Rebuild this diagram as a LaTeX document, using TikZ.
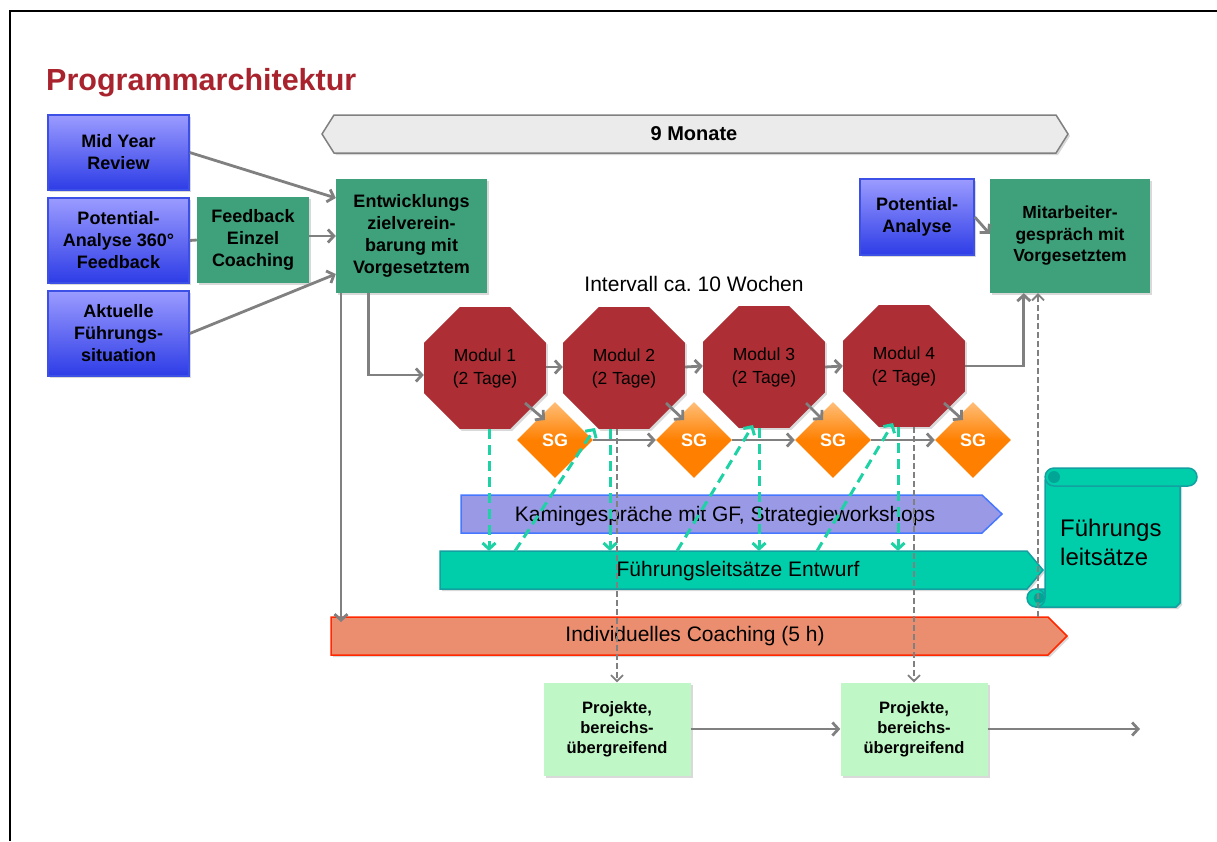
\documentclass[tikz,border=0pt]{standalone}
\usepackage{fontspec}
\setmainfont{Liberation Sans}
\usetikzlibrary{arrows.meta,shapes.geometric,shadows,calc}
\frenchspacing
\definecolor{titlered}{RGB}{168,35,45}
\definecolor{bluetop}{RGB}{155,155,255}
\definecolor{bluebot}{RGB}{45,60,230}
\definecolor{blueborder}{RGB}{60,80,230}
\definecolor{boxgreen}{RGB}{62,161,123}
\definecolor{modred}{RGB}{173,46,52}
\definecolor{sgtop}{RGB}{255,190,120}
\definecolor{sgbot}{RGB}{255,128,0}
\definecolor{kaminfill}{RGB}{153,153,230}
\definecolor{kamindraw}{RGB}{70,120,255}
\definecolor{entwfill}{RGB}{0,206,170}
\definecolor{entwdraw}{RGB}{18,160,160}
\definecolor{curldark}{RGB}{0,165,150}
\definecolor{coachfill}{RGB}{235,142,112}
\definecolor{coachdraw}{RGB}{255,40,0}
\definecolor{projfill}{RGB}{192,247,198}
\definecolor{tealdash}{RGB}{30,210,165}
\definecolor{lgray}{RGB}{128,128,128}
\definecolor{mgray}{RGB}{235,235,235}
\tikzset{
  shad/.style={drop shadow={opacity=0.3,shadow xshift=2pt,shadow yshift=-2pt}},
  conn/.style={draw=lgray,line width=2.8pt,-{Straight Barb[length=6pt,width=13pt]}},
  plainline/.style={draw=lgray,line width=2.8pt},
  gdash/.style={draw=lgray,line width=1.8pt,dash pattern=on 6pt off 3pt,-{Straight Barb[length=6pt,width=12pt]}},
  tdash/.style={draw=tealdash,line width=3pt,dash pattern=on 10pt off 6pt,-{Straight Barb[length=6pt,width=13pt]}},
  bluebox/.style={draw=blueborder,line width=1.5pt,top color=bluetop,bottom color=bluebot,
    minimum width=141pt,inner sep=0pt,align=center,font=\bfseries\fontsize{18}{22}\selectfont,shad},
  greenbox/.style={fill=boxgreen,inner sep=0pt,align=center,font=\bfseries\fontsize{17.5}{21.5}\selectfont,shad},
  modul/.style={regular polygon,regular polygon sides=8,minimum size=132pt,fill=modred,inner sep=0pt,
    align=center,font=\fontsize{17.5}{23}\selectfont,shad},
  sgnode/.style={diamond,minimum width=76pt,minimum height=76pt,inner sep=0pt,top color=sgtop,
    bottom color=sgbot,middle color=sgbot,text=white,font=\bfseries\fontsize{18}{22}\selectfont},
  projbox/.style={fill=projfill,minimum width=147pt,minimum height=93pt,inner sep=0pt,align=center,
    font=\bfseries\fontsize{16.5}{20}\selectfont,shad},
  bandtext/.style={font=\fontsize{21}{25}\selectfont,inner sep=0pt}
}
\begin{document}
\begin{tikzpicture}[x=1pt,y=-1pt]
\useasboundingbox (0,0) rectangle (1217,841);
% frame
\draw[line width=2pt] (10,841) -- (10,11) -- (1217,11);
% title
\node[anchor=base west,text=titlered,font=\bfseries\fontsize{30.5}{36}\selectfont,inner sep=0pt] (title) at (46,90) {Programmarchitektur};
% 9 Monate band
\draw[fill=mgray,draw=lgray,line width=1.5pt,shad] (322,134) -- (334,115) -- (1056,115) -- (1068,134) -- (1056,153) -- (334,153) -- cycle;
\node[font=\bfseries\fontsize{20}{24}\selectfont] (monate) at (694,134) {9 Monate};
% left boxes
\node[bluebox,minimum height=75pt] (myr) at (118.5,152.5) {Mid Year\\Review};
\node[bluebox,minimum height=85pt] (pa360) at (118.5,240.5) {Potential-\\Analyse 360°\\Feedback};
\node[bluebox,minimum height=85pt] (akt) at (118.5,333.5) {Aktuelle\\Führungs-\\situation};
\node[greenbox,minimum width=112pt,minimum height=86pt,font=\bfseries\fontsize{18}{22}\selectfont] (fec) at (253,240) {Feedback\\Einzel\\Coaching};
\node[greenbox,minimum width=151pt,minimum height=114pt,font=\bfseries\fontsize{18}{22}\selectfont] (ent) at (411.5,236) {Entwicklungs\\zielverein-\\barung mit\\Vorgesetztem};
\node[bluebox,minimum width=114pt,minimum height=76pt] (pa) at (917,217) {Potential-\\Analyse};
\node[greenbox,minimum width=160pt,minimum height=114pt] (mit) at (1070,236) {Mitarbeiter-\\gespräch mit\\Vorgesetztem};
% interval text
\node[font=\fontsize{21}{25}\selectfont] (intv) at (694,284) {Intervall ca. 10 Wochen};
% bands
\draw[fill=kaminfill,draw=kamindraw,line width=1.5pt] (461,495) -- (982,495) -- (1002,514) -- (982,533) -- (461,533) -- cycle;
\node[bandtext] (kamin) at (725,516) {Kamingespräche mit GF, Strategieworkshops};
\draw[fill=entwfill,draw=entwdraw,line width=1.5pt,shad] (440,551) -- (1027,551) -- (1043,570) -- (1027,589) -- (440,589) -- cycle;
\node[bandtext] (entw) at (738,571) {Führungsleitsätze Entwurf};
\draw[fill=coachfill,draw=coachdraw,line width=1.5pt,shad] (331,617) -- (1048,617) -- (1067,636) -- (1048,655) -- (331,655) -- cycle;
\node[bandtext] (coach) at (695,636) {Individuelles Coaching (5 h)};
% scroll
\draw[fill=entwfill,draw=entwdraw,line width=1.5pt,shad] (1036,589) -- (1045,589) -- (1045,480) -- (1180,480) -- (1180,603) -- (1176,607) -- (1036,607) -- cycle;
\draw[fill=entwfill,draw=entwdraw,line width=1.5pt] (1036,598) circle[radius=9];
\fill[curldark] (1039,598) circle[radius=5.5];
\draw[entwdraw,line width=1.5pt] (1045,589) -- (1045,598);
\draw[fill=entwfill,draw=entwdraw,line width=1.5pt,rounded corners=9pt] (1045,468) rectangle (1197,486);
\fill[curldark] (1054,477) circle[radius=6];
\node[anchor=west,align=left,inner sep=0pt,font=\fontsize{24}{29}\selectfont] (scrolltext) at (1060,542) {Führungs\\leitsätze};
% modules
\node[modul] (m1) at (485,368) {Modul 1\\(2 Tage)};
\node[modul] (m2) at (624,368) {Modul 2\\(2 Tage)};
\node[modul] (m3) at (764,367) {Modul 3\\(2 Tage)};
\node[modul] (m4) at (904,366) {Modul 4\\(2 Tage)};
% SG
\node[sgnode] (sg1) at (555,440) {SG};
\node[sgnode] (sg2) at (694,440) {SG};
\node[sgnode] (sg3) at (833,440) {SG};
\node[sgnode] (sg4) at (973,440) {SG};
% projects
\node[projbox] (p1) at (617,729) {Projekte,\\bereichs-\\übergreifend};
\node[projbox] (p2) at (914,729) {Projekte,\\bereichs-\\übergreifend};
% left connectors
\draw[conn] (myr.east) -- ($(ent.west)+(0,-38)$);
\draw[plainline] (pa360.east) -- (fec.west);
\draw[conn] (fec.east |- ent.west) -- (ent.west);
\draw[conn] (akt.east) -- ($(ent.west)+(0,38)$);
\draw[conn] ($(ent.south west)+(33,0)$) |- ($(m1.west)+(0,7)$);
\coordinate (ct) at (341,622);
\draw[conn] (ent.south west -| ct) -- (ct);
% module chain
\draw[conn] ($(m1.east)+(0,-1)$) -- ($(m2.west)+(0,-1)$);
\draw[conn] ($(m2.east)+(0,-1)$) -- ($(m3.west)+(0,-1)$);
\draw[conn] (m3.east) -- (m4.west);
\draw[conn] ($(m1.center)+(40,35)$) -- ($(sg1.center)+(-10,-20)$);
\draw[conn] ($(m2.center)+(42,35)$) -- ($(sg2.center)+(-10,-20)$);
\draw[conn] ($(m3.center)+(42,36)$) -- ($(sg3.center)+(-10,-20)$);
\draw[conn] ($(m4.center)+(40,37)$) -- ($(sg4.center)+(-10,-20)$);
\draw[conn] (sg1.east) -- (sg2.west);
\draw[conn] (sg2.east) -- (sg3.west);
\draw[conn] (sg3.east) -- (sg4.west);
\draw[conn] (m4.east) -| ($(mit.south west)+(34,0)$);
\draw[conn] (pa.east) -- ($(mit.west)+(0,-2)$);
% teal dashed
\coordinate (ewt) at (0,551);
\coordinate (t1) at ($(m1.south)+(4,0)$);
\coordinate (t2) at ($(m2.south)+(-14,0)$);
\coordinate (t3) at ($(m3.south)+(-5,0)$);
\coordinate (t4) at ($(m4.south)+(-6,0)$);
\draw[tdash] (t1) -- (t1 |- ewt);
\draw[tdash] (t2) -- (t2 |- ewt);
\draw[tdash] (t3) -- (t3 |- ewt);
\draw[tdash] (t4) -- (t4 |- ewt);
\coordinate (d1s) at (515,551); \coordinate (d1e) at (595,428);
\coordinate (d2s) at (677,551); \coordinate (d2e) at (753,425);
\coordinate (d3s) at (817,551); \coordinate (d3e) at (893,423);
\draw[tdash] (d1s) -- (d1e);
\draw[tdash] (d2s) -- (d2e);
\draw[tdash] (d3s) -- (d3e);
% gray dashed
\draw[gdash] (m2.south -| p1.north) -- (p1.north);
\draw[gdash] (m4.south -| p2.north) -- (p2.north);
\coordinate (gd) at (1038,617);
\draw[gdash] (gd) -- (gd |- mit.south);
% project chain
\draw[conn] (p1.east) -- (p2.west);
\coordinate (pend) at (1140,729);
\draw[conn] (p2.east) -- (pend);
\end{tikzpicture}
\end{document}
